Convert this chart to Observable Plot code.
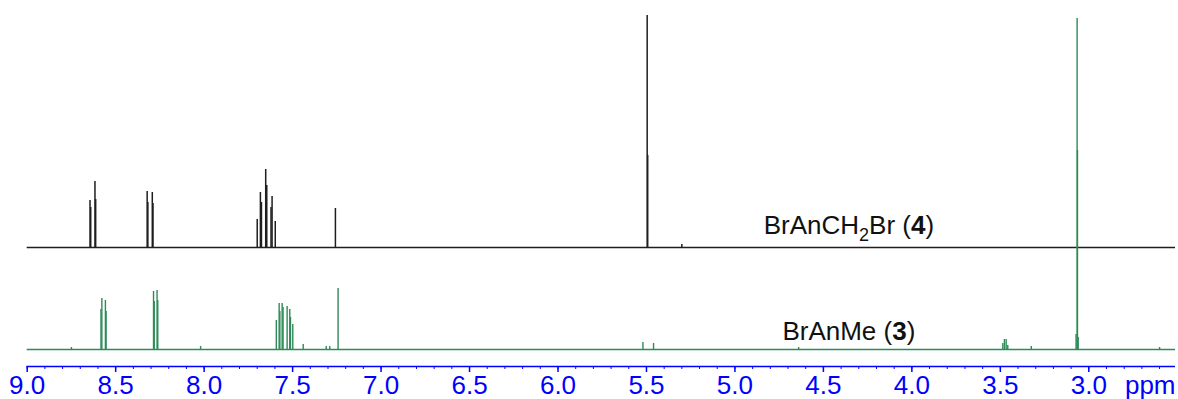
<!DOCTYPE html>
<html>
<head>
<meta charset="utf-8">
<script src="https://cdn.jsdelivr.net/npm/d3@7"></script>
<script src="https://cdn.jsdelivr.net/npm/@observablehq/plot@0.6"></script>
<style>
  html, body { margin: 0; padding: 0; background: #fff; }
  #chart { width: 1178px; height: 399px; }
</style>
</head>
<body>
<div id="chart"></div>
<script>
// ---- data ----
// BrAnCH2Br (4): peak positions (ppm) and peak heights (intensity units)
const blackPpm    = [8.645, 8.641, 8.617, 8.613, 8.322, 8.318, 8.293, 8.289, 7.700, 7.682, 7.676, 7.652, 7.646, 7.622, 7.616, 7.598, 7.258, 5.496, 5.493, 5.300];
const blackHeight = [47,    40,    66,    48,    56,    45,    55,    44,    28,    55,    45,    78,    62,    40,    51,    26,    39,    232,   92,    3];
// BrAnMe (3)
const greenPpm    = [8.750, 8.583, 8.578, 8.558, 8.554, 8.286, 8.282, 8.266, 8.262, 8.020, 7.592, 7.576, 7.572, 7.559, 7.554, 7.531, 7.516, 7.512, 7.499, 7.440, 7.310, 7.290, 7.243, 5.520, 5.460, 4.640, 3.486, 3.477, 3.467, 3.458, 3.325, 3.072, 3.066, 3.064, 3.060, 2.600];
const greenHeight = [2,     40,    51,    49,    38,    58,    48,    59,    49,    3,     29,    46,    38,    46,    42,    43,    40,    32,    25,    5,     3,     3,     61,    7,     6,     2,     6,     10,    10,    4,     3,     15,    331,   199,   12,    2];
// spectrum labels and baseline offsets (intensity units)
const spectrumNames   = ["BrAnCH2Br (4)", "BrAnMe (3)"];
const spectrumOffsets = [102, 0];
const spectrumColors  = ["#1e1e1e", "#2e8b57"];
const labelPpm = 4.356;
// axis ticks
const majorTicks = [9.0, 8.5, 8.0, 7.5, 7.0, 6.5, 6.0, 5.5, 5.0, 4.5, 4.0, 3.5, 3.0];
const minorTicks = [9.0,8.9,8.8,8.7,8.6,8.5,8.4,8.3,8.2,8.1,8.0,7.9,7.8,7.7,7.6,7.5,7.4,7.3,7.2,7.1,7.0,6.9,6.8,6.7,6.6,6.5,6.4,6.3,6.2,6.1,6.0,5.9,5.8,5.7,5.6,5.5,5.4,5.3,5.2,5.1,5.0,4.9,4.8,4.7,4.6,4.5,4.4,4.3,4.2,4.1,4.0,3.9,3.8,3.7,3.6,3.5,3.4,3.3,3.2,3.1,3.0,2.9,2.8,2.7,2.6];
const unitLabel = "ppm";

// ---- build tables ----
const black = blackPpm.map((p, i) => ({ppm: p, h: blackHeight[i], off: spectrumOffsets[0]}));
const green = greenPpm.map((p, i) => ({ppm: p, h: greenHeight[i], off: spectrumOffsets[1]}));
const labels = spectrumNames.map((n, i) => ({name: n, ppm: labelPpm, off: spectrumOffsets[i]}));

const FONT = "'Liberation Sans', Arial, Helvetica, sans-serif";
const fmt = d3.format(".1f");

const plot = Plot.plot({
  width: 1178,
  height: 399,
  marginTop: 0,
  marginBottom: 33,
  marginLeft: 26.7,
  marginRight: 3,
  style: {fontFamily: FONT, background: "#fff", overflow: "visible"},
  x: {domain: [9.0, 2.51], axis: null},
  y: {domain: [-17, 349], axis: null},
  marks: [
    // baselines
    Plot.ruleY([spectrumOffsets[1]], {stroke: spectrumColors[1], strokeWidth: 1.4}),
    Plot.ruleY([spectrumOffsets[0]], {stroke: spectrumColors[0], strokeWidth: 1.4}),
    // peaks
    Plot.ruleX(green, {x: "ppm", y1: "off", y2: d => d.off + d.h, stroke: spectrumColors[1], strokeWidth: 1.4}),
    Plot.ruleX(black, {x: "ppm", y1: "off", y2: d => d.off + d.h, stroke: spectrumColors[0], strokeWidth: 1.5}),
    // spectrum labels
    Plot.text(labels, {x: "ppm", y: d => d.off + (d.off ? 14 : 10), text: "name", lineAnchor: "bottom", textAnchor: "middle", fontSize: 26, fill: "#111"}),
    // axis line
    Plot.ruleY([-17], {stroke: "blue", strokeWidth: 1.5}),
    // minor and major ticks
    Plot.axisX({ticks: minorTicks, tickSize: 3, color: "blue", stroke: "blue", strokeWidth: 1, text: null, label: null, anchor: "bottom"}),
    Plot.axisX({ticks: majorTicks, tickSize: 6, color: "blue", stroke: "blue", strokeWidth: 1.5, text: null, label: null, anchor: "bottom"}),
    // tick labels
    Plot.text(majorTicks, {x: d => d, text: d => fmt(d), frameAnchor: "bottom", dy: 27, lineAnchor: "bottom", textAnchor: "middle", fontSize: 26, fill: "blue"}),
    // unit label
    Plot.text([unitLabel], {frameAnchor: "bottom-right", dy: 27, lineAnchor: "bottom", textAnchor: "end", fontSize: 26, fill: "blue"})
  ]
});

document.getElementById("chart").appendChild(plot);

// rich text for spectrum labels: subscript 2 and bold compound numbers
d3.select(plot).selectAll("text").each(function() {
  const t = this.textContent;
  if (t === spectrumNames[0]) {
    this.textContent = "";
    const s = d3.select(this);
    s.append("tspan").text("BrAnCH");
    s.append("tspan").attr("dy", 7).attr("font-size", 18).text("2");
    s.append("tspan").attr("dy", -7).text("Br (");
    s.append("tspan").attr("font-weight", "bold").text("4");
    s.append("tspan").text(")");
  } else if (t === spectrumNames[1]) {
    this.textContent = "";
    const s = d3.select(this);
    s.append("tspan").text("BrAnMe (");
    s.append("tspan").attr("font-weight", "bold").text("3");
    s.append("tspan").text(")");
  }
});
</script>
</body>
</html>
